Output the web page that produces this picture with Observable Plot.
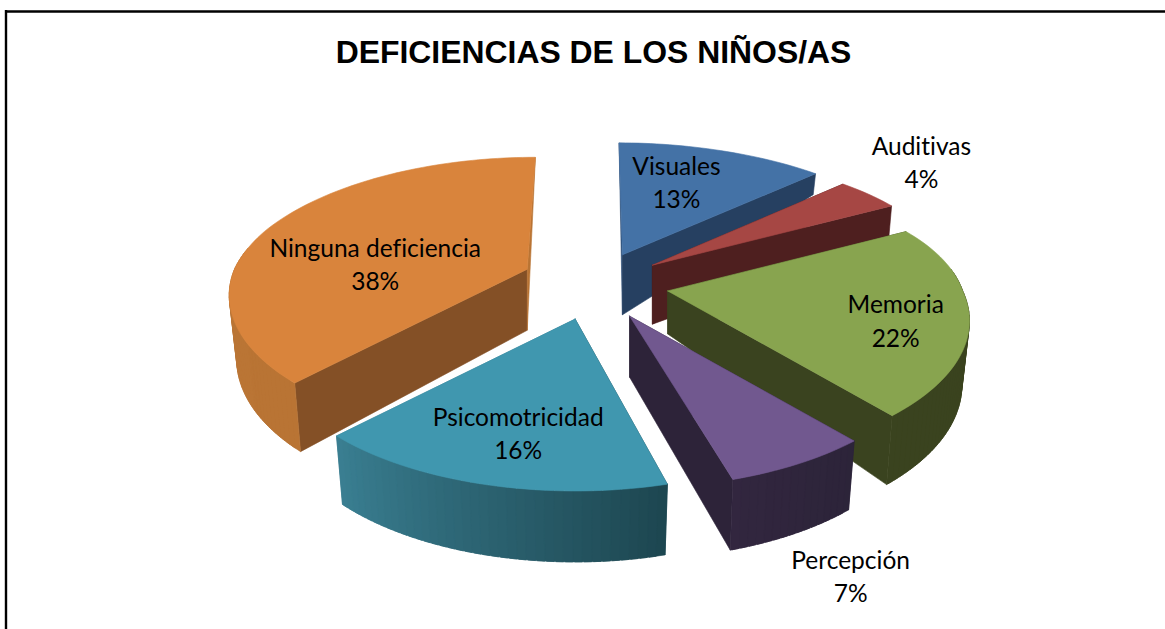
<!DOCTYPE html>
<html><head><meta charset="utf-8">
<script src="https://cdn.jsdelivr.net/npm/d3@7"></script>
<script src="https://cdn.jsdelivr.net/npm/@observablehq/plot@0.6"></script>
<style>html,body{margin:0;padding:0;background:#fff}svg{display:block}svg text{font-variant-ligatures:none}</style>
</head><body><div id="chart"></div>
<script>
const title = "DEFICIENCIAS DE LOS NIÑOS/AS";
const categories = ["Visuales","Auditivas","Memoria","Percepción","Psicomotricidad","Ninguna deficiencia"];
const percents = [13,4,22,7,16,38];
const topColors = ["#4472a6","#a64744","#88a44f","#71588f","#4097af","#d9843c"];
const startCutColors = ["#2d4f78","#4e1f1f","#3a431f","#2d2339","#1d4650","#845026"];
const endCutColors = ["#264061","#4e1f1f","#3a431f","#2d2339","#3a7d90","#b97434"];
const rimFromColors = ["#264061","#4e1f1f","#3a431f","#2c2439","#1d4650","#b97434"];
const rimToColors = ["#264061","#4e1f1f","#3a431f","#32263f","#3a7f92","#bd7838"];
const apexDepths = [60,59,43,61,65,61];
const labelShift = [[54,-72],[269,-103],[228,30],[221,260],[-57,114],[-152,-4.5]];
// small corrections for the drawing's uneven perspective
const apexNudgeY = [0,0,0,0,0,-3];
const frontScale = [1,1,1,1,1,0.975];
const endNudge = [0,0,0,-1.8,0,0];

const W = 1165, H = 629;
const cx = 594, cy = 284, A = 295, B = 135.6, K = 0.211, EXPLODE = 0.25;
const rad = d => d * Math.PI / 180;
const proj = (u, v) => [A * u / (1 + K * v), -B * v / (1 + K * v)];
const rimDepth = v => v > 0 ? 62 - 60 * v : 62 - 9 * v;

let cum = 0;
const slices = categories.map((name, i) => {
  const a0 = cum * 3.6; cum += percents[i]; const a1 = cum * 3.6;
  const m = rad((a0 + a1) / 2);
  const [ex, ey] = proj(EXPLODE * Math.sin(m), EXPLODE * Math.cos(m));
  return {i, name, a0, a1: a1 + endNudge[i], ax: cx + ex, ay: cy + ey + apexNudgeY[i]};
});
function rim(s, deg) {
  const u = Math.sin(rad(deg)), v = Math.cos(rad(deg));
  let [X, Y] = proj(u, v);
  if (u > 0 && v > 0) X *= 1 + 0.08 * u * v;
  const f = 1 - (1 - frontScale[s.i]) * Math.max(0.3 - v, 0);
  X *= f; Y *= f;
  const px = s.ax + X - 0.12 * (s.ax - cx) * Math.max(v, 0), py = s.ay + Y;
  const shrink = v < 0 ? 0.025 : 0.012;
  return {x: px, y: py, bx: px - shrink * X, by: py + rimDepth(v)};
}
const polys = [];
let pid = 0;
function poly(pts, color) {
  const id = pid++;
  [...pts, pts[0]].forEach(p => polys.push({id, x: p[0], y: p[1], color}));
}
slices.forEach(s => {
  const d = apexDepths[s.i];
  const r0 = rim(s, s.a0), r1 = rim(s, s.a1);
  poly([[s.ax,s.ay],[r0.x,r0.y],[r0.bx,r0.by],[s.ax,s.ay+d]], startCutColors[s.i]);
  poly([[s.ax,s.ay],[r1.x,r1.y],[r1.bx,r1.by],[s.ax,s.ay+d]], endCutColors[s.i]);
  const color = d3.interpolateRgb(rimFromColors[s.i], rimToColors[s.i]);
  const n = Math.ceil((s.a1 - s.a0) / 1.5);
  const step = (s.a1 - s.a0) / n;
  for (let j = 0; j < n; j++) {
    const a = s.a0 + step * j, b = Math.min(s.a1, a + step * 1.8); // overlap strips so no seams show
    // only the front part of the rim faces the viewer
    if (Math.cos(rad(a + step / 2)) > 0.15) continue;
    const p = rim(s, a), q = rim(s, b);
    poly([[p.x,p.y],[q.x,q.y],[q.bx,q.by],[p.bx,p.by]], color((j + .5) / n));
  }
  const top = [[s.ax, s.ay]];
  for (let j = 0; j <= n; j++) { const p = rim(s, s.a0 + step * j); top.push([p.x, p.y]); }
  poly(top, topColors[s.i]);
});
const labels = slices.map(s => ({
  text: `${s.name}\n${percents[s.i]}%`,
  x: s.ax + labelShift[s.i][0], y: s.ay + labelShift[s.i][1]
}));

const chart = Plot.plot({
  width: W, height: H, margin: 0,
  x: {type: "linear", domain: [0, W], range: [0, W], axis: null},
  y: {type: "linear", domain: [0, H], range: [0, H], axis: null},
  color: {type: "identity"},
  marks: [
    // chart border: open at the bottom and right, cropped by the picture
    Plot.ruleY([11], {x1: 5, x2: W, stroke: "#000", strokeWidth: 2.4}),
    Plot.ruleX([5.5], {y1: 10, y2: H, stroke: "#000", strokeWidth: 2.4}),
    Plot.line(polys, {x: "x", y: "y", z: "id", fill: "color", stroke: "color", strokeWidth: 0.6, curve: "linear"}),
    Plot.text(labels, {x: "x", y: "y", dy: -1.5, text: "text", fontFamily: "Lato, Carlito, sans-serif", fontSize: 24.5, lineHeight: 1.35, fill: "#000", textAnchor: "middle"}),
    Plot.text([title], {x: () => 593, y: () => 52, text: d => d, fontFamily: "'Liberation Sans', Arial, sans-serif", fontWeight: 700, fontSize: 31.9, fill: "#000", textAnchor: "middle"})
  ]
});
document.getElementById("chart").appendChild(chart);
</script></body></html>
